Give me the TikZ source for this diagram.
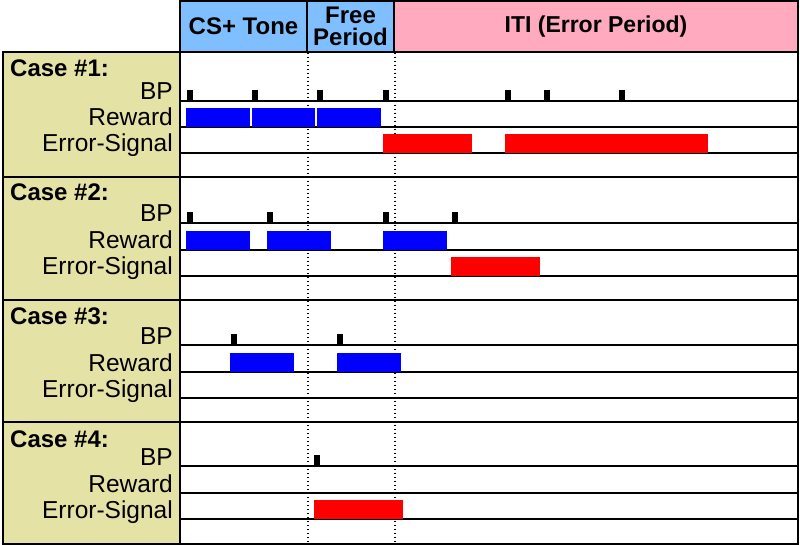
\documentclass[tikz,border=0pt]{standalone}
\usepackage{fontspec}
\setmainfont{Liberation Sans}
\usepackage{xcolor}
\usepackage{tikz}
\usetikzlibrary{positioning,calc}
\definecolor{headblue}{HTML}{80BFFF}
\definecolor{headpink}{HTML}{FFAABF}
\definecolor{casekhaki}{HTML}{E5E2A6}
\tikzset{
  period/.style={draw=black, line width=1.5pt, inner sep=0pt, align=center, font=\fontsize{24}{22}\selectfont\bfseries},
  casebox/.style={draw=black, line width=1.5pt, fill=casekhaki, inner sep=0pt, minimum width=177pt},
  casename/.style={anchor=base west, font=\fontsize{24}{22}\selectfont\bfseries, inner sep=0pt},
  rowname/.style={anchor=base east, inner sep=0pt},
  rowline/.style={draw=black, line width=1.4pt},
  boundary/.style={draw=black, line width=1.5pt, dash pattern=on 1.5pt off 2.5pt},
  bptick/.style={fill=black},
  rewardbar/.style={fill=blue},
  errorbar/.style={fill=red}
}

\begin{document}
\begin{tikzpicture}[x=1pt, y=-1pt, font=\fontsize{24.5}{22}\selectfont]
  \useasboundingbox (0,0) rectangle (800,545);

  % period headers
  \node[period, fill=headblue, minimum width=127pt, minimum height=51pt] (cstone) at (243.5,26.5) {CS+ Tone};
  \node[period, fill=headblue, minimum width=87pt, minimum height=51pt] (free) at (350.5,26.5) {Free\\Period};
  \node[period, fill=headpink, minimum width=404pt, minimum height=51pt, font=\fontsize{23}{22}\selectfont\bfseries] (iti) at (596,26.5) {ITI (Error Period)};

  % case boxes
  \node[casebox, minimum height=125pt] (case1) at (91.5,114.5) {};
  \node[casebox, minimum height=123pt] (case2) at (91.5,238.5) {};
  \node[casebox, minimum height=122pt] (case3) at (91.5,361) {};
  \node[casebox, minimum height=122pt] (case4) at (91.5,483) {};

  \node[casename] (c1) at (10,77) {Case \#1:};
  \node[rowname] (bp1) at (173,100) {BP};
  \node[rowname] (rw1) at (173,126) {Reward};
  \node[rowname] (es1) at (173,152) {Error-Signal};

  \node[casename] (c2) at (10,201) {Case \#2:};
  \node[rowname] (bp2) at (173,222) {BP};
  \node[rowname] (rw2) at (173,249) {Reward};
  \node[rowname] (es2) at (173,275) {Error-Signal};

  \node[casename] (c3) at (10,324) {Case \#3:};
  \node[rowname] (bp3) at (173,344) {BP};
  \node[rowname] (rw3) at (173,371) {Reward};
  \node[rowname] (es3) at (173,397) {Error-Signal};

  \node[casename] (c4) at (10,447) {Case \#4:};
  \node[rowname] (bp4) at (173,465) {BP};
  \node[rowname] (rw4) at (173,492) {Reward};
  \node[rowname] (es4) at (173,518) {Error-Signal};

  % period boundaries
  \draw[boundary] (cstone.south east) -- (cstone.south east |- case4.south);
  \draw[boundary] (free.south east) -- (free.south east |- case4.south);

  % row lines
  \draw[rowline] (180,101) -- (798,101) (180,127) -- (798,127) (180,153) -- (798,153) (180,177) -- (798,177);
  \draw[rowline] (180,223) -- (798,223) (180,250) -- (798,250) (180,276) -- (798,276) (180,300) -- (798,300);
  \draw[rowline] (180,345) -- (798,345) (180,372) -- (798,372) (180,398) -- (798,398) (180,422) -- (798,422);
  \draw[rowline] (180,466) -- (798,466) (180,493) -- (798,493) (180,519) -- (798,519);
  \draw[rowline] (case1.north east) rectangle (798,544);

  % case 1
  \fill[bptick] (187,101) rectangle ++(5.5,-11);
  \fill[bptick] (252,101) rectangle ++(5.5,-11);
  \fill[bptick] (317,101) rectangle ++(5.5,-11);
  \fill[bptick] (383,101) rectangle ++(5.5,-11);
  \fill[bptick] (505,101) rectangle ++(5.5,-11);
  \fill[bptick] (544,101) rectangle ++(5.5,-11);
  \fill[bptick] (619,101) rectangle ++(5.5,-11);
  \fill[rewardbar] (186,127) rectangle (250,108);
  \fill[rewardbar] (252,127) rectangle (315,108);
  \fill[rewardbar] (317,127) rectangle (381,108);
  \fill[errorbar] (383,153) rectangle (472,134);
  \fill[errorbar] (505,153) rectangle (708,134);

  % case 2
  \fill[bptick] (187,223) rectangle ++(5.5,-11);
  \fill[bptick] (267,223) rectangle ++(5.5,-11);
  \fill[bptick] (383,223) rectangle ++(5.5,-11);
  \fill[bptick] (452,223) rectangle ++(5.5,-11);
  \fill[rewardbar] (186,250) rectangle (250,231);
  \fill[rewardbar] (267,250) rectangle (331,231);
  \fill[rewardbar] (383,250) rectangle (447,231);
  \fill[errorbar] (451,276) rectangle (540,257);

  % case 3
  \fill[bptick] (231,345) rectangle ++(5.5,-11);
  \fill[bptick] (337,345) rectangle ++(5.5,-11);
  \fill[rewardbar] (230,372) rectangle (294,353);
  \fill[rewardbar] (337,372) rectangle (401,353);

  % case 4
  \fill[bptick] (314,466) rectangle ++(5.5,-11);
  \fill[errorbar] (314,519) rectangle (403,500);
\end{tikzpicture}
\end{document}
